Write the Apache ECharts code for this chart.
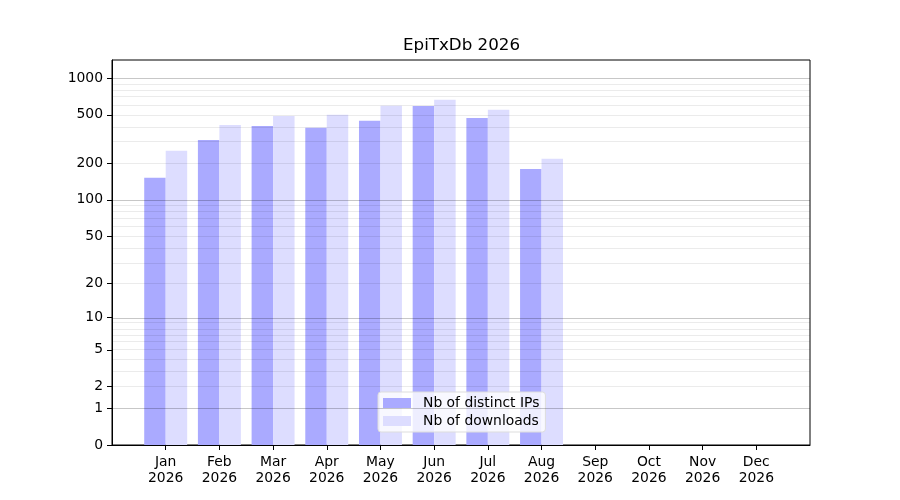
<!DOCTYPE html>
<html>
<head>
<meta charset="utf-8">
<title>EpiTxDb 2026</title>
<script src="https://cdn.jsdelivr.net/npm/echarts@6.0.0/dist/echarts.min.js"></script>
<style>
  html, body { margin: 0; padding: 0; background: #fff; }
  #main { width: 900px; height: 500px; }
</style>
</head>
<body>
<div id="main"></div>
<script>
// 数据：每月下载统计
const months = ['Jan', 'Feb', 'Mar', 'Apr', 'May', 'Jun', 'Jul', 'Aug', 'Sep', 'Oct', 'Nov', 'Dec'];
const year = '2026';
const distinctIPs = [152, 311, 405, 391, 446, 591, 471, 180, null, null, null, null];
const downloads = [254, 413, 490, 500, 592, 663, 549, 218, null, null, null, null];

// y 轴刻度（log10(1+x) 变换）
const yTicks = [0, 1, 2, 5, 10, 20, 50, 100, 200, 500, 1000];
const majorLines = [1, 10, 100, 1000];
const minorLines = [2, 3, 4, 5, 6, 7, 8, 9, 20, 30, 40, 50, 60, 70, 80, 90,
  200, 300, 400, 500, 600, 700, 800, 900];
const yMaxValue = 1405;

const FONT = 'DejaVu Sans';
const f = v => (v == null ? '-' : Math.log10(1 + v));

// 两端各留一个空类目，模拟 matplotlib 的边距
const categories = [''].concat(months.map(m => m + '\n' + year)).concat(['']);
const pad = arr => ['-'].concat(arr.map(f)).concat(['-']);

const chart = echarts.init(document.getElementById('main'), null, { renderer: 'canvas' });

const option = {
  animation: false,
  backgroundColor: '#fff',
  title: {
    text: 'EpiTxDb 2026',
    left: 403,
    top: 37,
    padding: 0,
    textStyle: { fontFamily: FONT, fontSize: 16.7, fontWeight: 'normal', color: '#000' }
  },
  grid: {
    left: 112, right: 90, top: 60, bottom: 55,
    show: true, borderColor: '#000', borderWidth: 1,
    containLabel: false
  },
  legend: {
    orient: 'vertical',
    left: 378, top: 392,
    padding: [4, 6, 4, 5],
    itemGap: 4,
    itemWidth: 28, itemHeight: 10,
    icon: 'rect',
    backgroundColor: 'rgba(255,255,255,0.8)',
    borderColor: '#dddddd', borderWidth: 1, borderRadius: 3,
    textStyle: { fontFamily: FONT, fontSize: 13.9, color: '#000', padding: [0, 0, 0, 7] },
    data: ['Nb of distinct IPs', 'Nb of downloads']
  },
  xAxis: {
    type: 'category',
    data: categories,
    boundaryGap: false,
    axisLine: { show: true, lineStyle: { color: '#000', width: 1 } },
    axisTick: {
      show: true, length: 5, inside: false,
      interval: (index) => index > 0 && index < categories.length - 1,
      lineStyle: { color: '#000' }
    },
    axisLabel: {
      interval: 0, margin: 9,
      fontFamily: FONT, fontSize: 13.9, color: '#000', lineHeight: 16
    },
    splitLine: { show: false }
  },
  yAxis: {
    type: 'value',
    min: 0,
    max: Math.log10(1 + yMaxValue),
    axisLine: { show: true, lineStyle: { color: '#000', width: 1 } },
    axisTick: {
      show: true, length: 5,
      customValues: yTicks.map(f),
      lineStyle: { color: '#000' }
    },
    axisLabel: {
      customValues: yTicks.map(f),
      margin: 9,
      fontFamily: FONT, fontSize: 13.9, color: '#000',
      formatter: v => String(Math.round(Math.pow(10, v) - 1))
    },
    splitLine: { show: false }
  },
  series: [
    {
      name: 'Nb of distinct IPs',
      type: 'bar',
      data: pad(distinctIPs),
      barWidth: '40%',
      barGap: '0%',
      itemStyle: { color: '#aaaaff' }
    },
    {
      name: 'Nb of downloads',
      type: 'bar',
      data: pad(downloads),
      barWidth: '40%',
      barGap: '0%',
      itemStyle: { color: '#ddddff' },
      // 网格线画在柱子上面（同 matplotlib）
      markLine: {
        silent: true,
        symbol: ['none', 'none'],
        label: { show: false },
        emphasis: { disabled: true },
        data: majorLines.map(v => ({
          yAxis: f(v),
          lineStyle: { color: 'rgba(0,0,0,0.22)', width: 1, type: 'solid' }
        })).concat(minorLines.map(v => ({
          yAxis: f(v),
          lineStyle: { color: 'rgba(0,0,0,0.08)', width: 1, type: 'solid' }
        })))
      }
    }
  ]
};

chart.setOption(option);
</script>
</body>
</html>
